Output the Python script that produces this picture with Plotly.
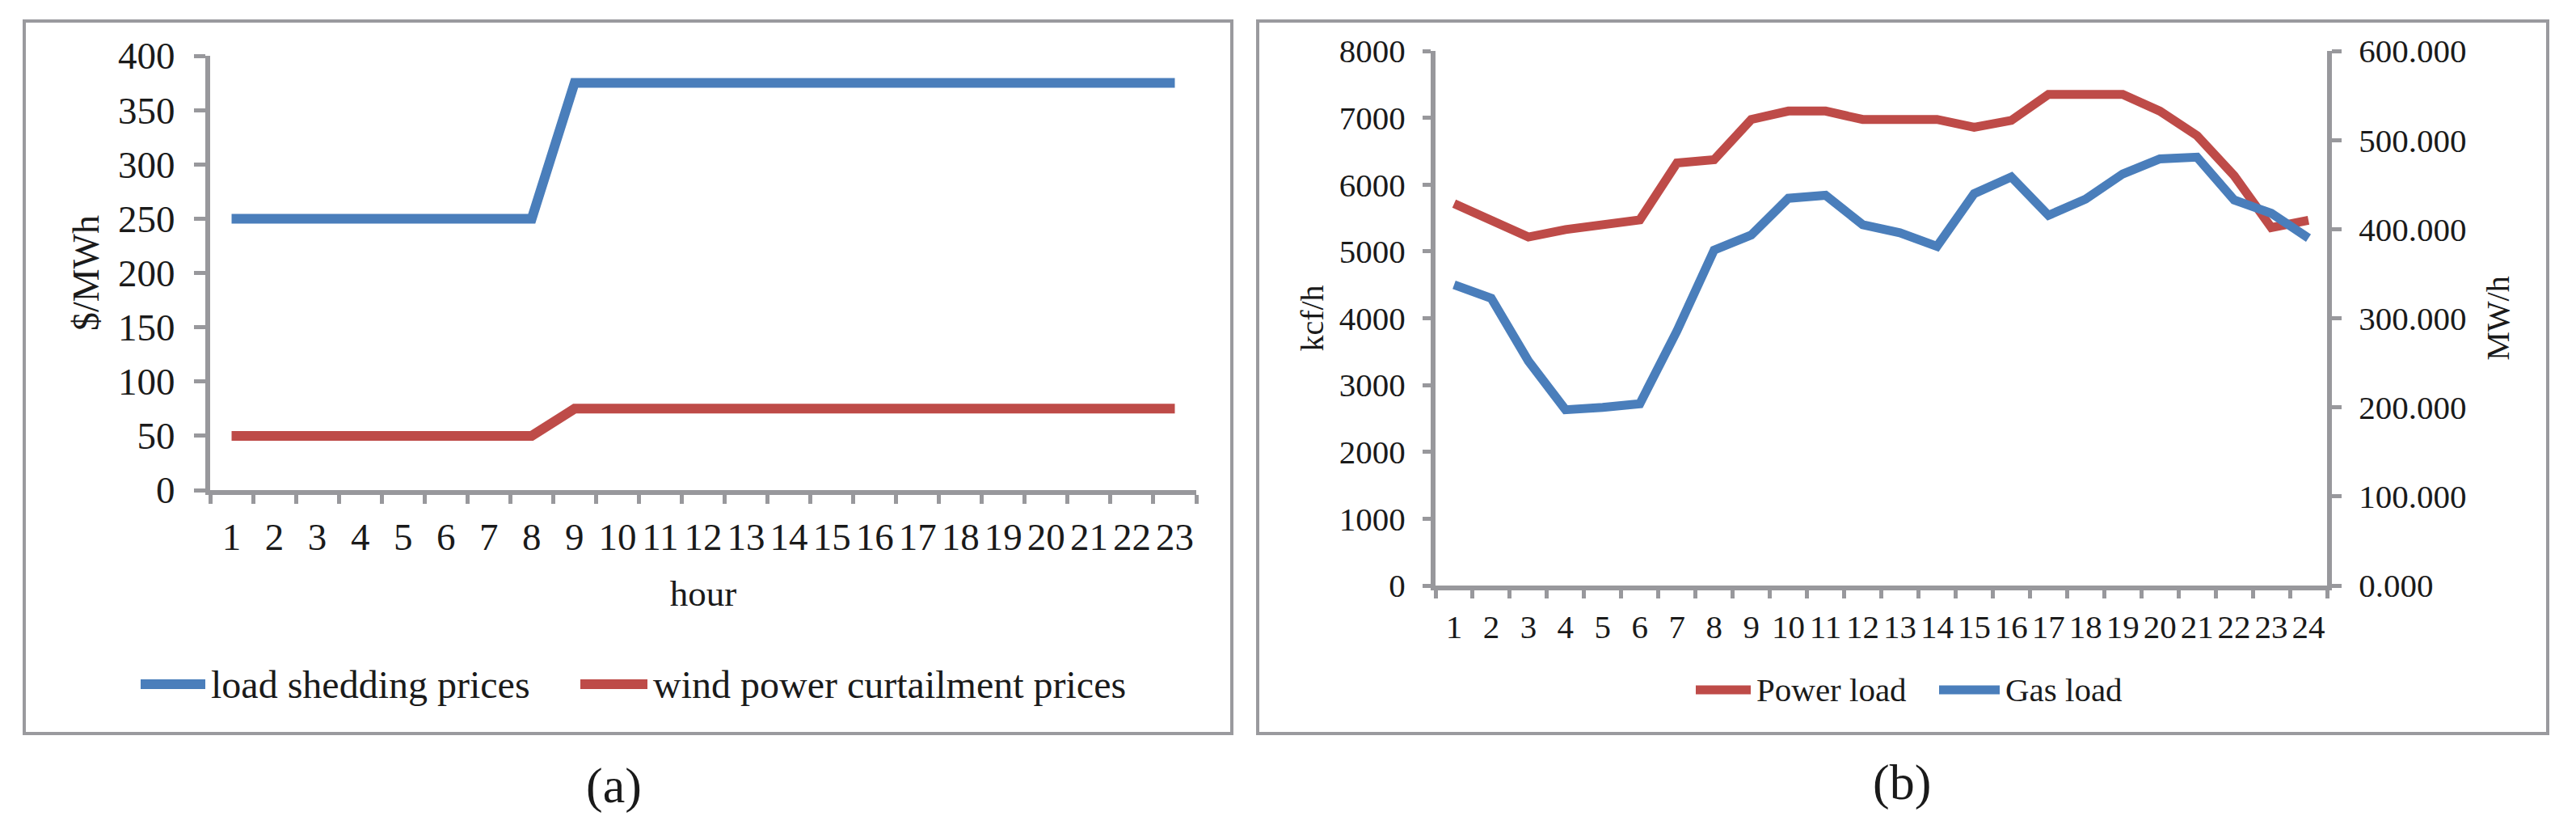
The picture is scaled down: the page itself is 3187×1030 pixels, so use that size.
import plotly.graph_objects as go

W, H = 3187, 1030

# ---- data ----
# (a) prices by hour
hours_a = ["1", "2", "3", "4", "5", "6", "7", "8", "9", "10", "11", "12",
           "13", "14", "15", "16", "17", "18", "19", "20", "21", "22", "23"]
load_shedding = [250, 250, 250, 250, 250, 250, 250, 250, 375, 375, 375, 375,
                 375, 375, 375, 375, 375, 375, 375, 375, 375, 375, 375]
wind_curtail = [50, 50, 50, 50, 50, 50, 50, 50, 75, 75, 75, 75,
                75, 75, 75, 75, 75, 75, 75, 75, 75, 75, 75]

# (b) loads by hour
hours_b = ["1", "2", "3", "4", "5", "6", "7", "8", "9", "10", "11", "12",
           "13", "14", "15", "16", "17", "18", "19", "20", "21", "22", "23", "24"]
power_load = [428.6, 410.4, 391.2, 399.5, 404.2, 410.4, 474.3, 477.9, 523.1, 532.5, 532.5, 523.1,
              523.1, 523.1, 514.3, 522.0, 551.2, 551.2, 551.2, 532.5, 505.0, 460.0, 401.8, 410.0]
gas_load = [4500, 4300, 3360, 2630, 2665, 2720, 3810, 5020, 5245, 5795, 5840, 5400,
            5278, 5075, 5865, 6115, 5540, 5783, 6160, 6385, 6410, 5770, 5570, 5200]

BLUE = "#4a7ebb"
RED = "#be4b48"
GRAY = "#98989c"
INK = "#1a1a1a"
FONT = "Liberation Serif"


def px(x):
    return x / W


def py(y):
    return 1 - y / H


fig = go.Figure()

fig.add_trace(go.Scatter(x=hours_a, y=load_shedding, mode="lines", name="load shedding prices",
                         line=dict(color=BLUE, width=12), xaxis="x", yaxis="y"))
fig.add_trace(go.Scatter(x=hours_a, y=wind_curtail, mode="lines", name="wind power curtailment prices",
                         line=dict(color=RED, width=12), xaxis="x", yaxis="y"))
fig.add_trace(go.Scatter(x=hours_b, y=power_load, mode="lines", name="Power load",
                         line=dict(color=RED, width=11), xaxis="x2", yaxis="y2"))
fig.add_trace(go.Scatter(x=hours_b, y=gas_load, mode="lines", name="Gas load",
                         line=dict(color=BLUE, width=11), xaxis="x2", yaxis="y3"))

common = dict(showgrid=False, zeroline=False, showline=True, linecolor=GRAY, linewidth=6,
              ticks="outside", tickcolor=GRAY, tickwidth=5, automargin=False)

fig.update_layout(
    width=W, height=H,
    margin=dict(l=0, r=0, t=0, b=0, autoexpand=False),
    paper_bgcolor="white", plot_bgcolor="rgba(0,0,0,0)",
    showlegend=False,
    font=dict(family=FONT, color=INK),
    xaxis=dict(domain=[px(260), px(1480)], anchor="y", type="category",
               tickson="boundaries", tickmode="linear", dtick=1, range=[-0.5, 22.5],
               tickangle=0, ticklen=11, ticklabelstandoff=12, tickfont=dict(size=47),
               title=dict(text="hour", font=dict(size=45), standoff=30), **common),
    yaxis=dict(domain=[py(606), py(69)], anchor="x", range=[0, 400], dtick=50,
               ticklen=14, ticklabelstandoff=14, tickfont=dict(size=47),
               title=dict(text="$/MWh", font=dict(size=46), standoff=11), **common),
    xaxis2=dict(domain=[px(1776), px(2879)], anchor="y2", type="category",
                tickson="boundaries", tickmode="linear", dtick=1, range=[-0.5, 23.5],
                tickangle=0, ticklen=10, ticklabelstandoff=10, tickfont=dict(size=41), **common),
    yaxis2=dict(domain=[py(724), py(63)], anchor="x2", side="right", range=[0, 600], dtick=100,
                tickformat=".3f", ticklen=12, ticklabelstandoff=13, tickfont=dict(size=41),
                title=dict(text="MW/h", font=dict(size=40), standoff=28), **common),
    yaxis3=dict(overlaying="y2", anchor="x2", side="left", range=[0, 8000], dtick=1000,
                ticklen=10, ticklabelstandoff=13, tickfont=dict(size=41),
                title=dict(text="kcf/h", font=dict(size=40), standoff=9), **common),
)

# panel frames
for x0, x1 in [(30, 1524), (1556, 3152)]:
    fig.add_shape(type="rect", xref="paper", yref="paper",
                  x0=px(x0), x1=px(x1), y0=py(907), y1=py(26),
                  line=dict(color="#9a9a9e", width=4), fillcolor="rgba(0,0,0,0)", layer="below")

# legends drawn like the originals (long line samples)
legend_items = [
    (174, 254, 846, BLUE, 12, "load shedding prices", 48),
    (718, 801, 846, RED, 12, "wind power curtailment prices", 48),
    (2098, 2166, 853, RED, 11, "Power load", 41),
    (2399, 2474, 853, BLUE, 11, "Gas load", 41),
]
for x0, x1, y, color, lw, label, size in legend_items:
    fig.add_shape(type="line", xref="paper", yref="paper",
                  x0=px(x0), x1=px(x1), y0=py(y), y1=py(y),
                  line=dict(color=color, width=lw))
    fig.add_annotation(xref="paper", yref="paper", x=px(x1 + 5), y=py(y),
                       xanchor="left", yanchor="middle", showarrow=False,
                       text=label, font=dict(size=size, family=FONT, color=INK))

# captions
for x, y, label in [(759, 971, "(a)"), (2353, 967, "(b)")]:
    fig.add_annotation(xref="paper", yref="paper", x=px(x), y=py(y),
                       xanchor="center", yanchor="middle", showarrow=False,
                       text=label, font=dict(size=62, family=FONT, color=INK))

fig.write_html("out.html", config={"displayModeBar": False},
               post_script="document.body.style.margin='0';")
